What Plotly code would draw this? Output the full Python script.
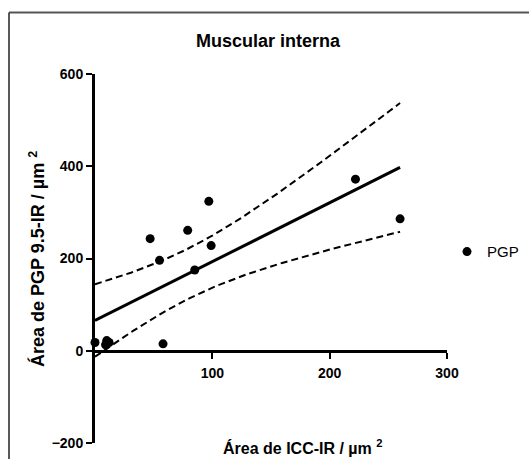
import numpy as np
import plotly.graph_objects as go

# ICC-IR area vs PGP 9.5-IR area (µm²), muscular interna
icc_area = [0, 9, 10, 12, 47, 55, 58, 79, 85, 97, 99, 222, 260]
pgp_area = [18, 13, 22, 18, 243, 196, 15, 261, 175, 324, 228, 372, 286]

x_ticks = [100, 200, 300]
y_ticks = [-200, 0, 200, 400, 600]

# Linear regression with 95% confidence band of the mean
x = np.array(icc_area, dtype=float)
y = np.array(pgp_area, dtype=float)
n = len(x)
slope, intercept = np.polyfit(x, y, 1)
resid = y - (intercept + slope * x)
s = np.sqrt(np.sum(resid ** 2) / (n - 2))
sxx = np.sum((x - x.mean()) ** 2)
t_crit = 2.201  # t(0.975, df=11)

xf = np.linspace(x.min(), x.max(), 120)
yf = intercept + slope * xf
half = t_crit * s * np.sqrt(1.0 / n + (xf - x.mean()) ** 2 / sxx)

FONT = "Arial, Liberation Sans, sans-serif"

fig = go.Figure()
fig.add_trace(go.Scatter(x=xf, y=yf + half, mode="lines",
                         line=dict(color="black", width=2, dash="7px,4px"),
                         showlegend=False, hoverinfo="skip"))
fig.add_trace(go.Scatter(x=xf, y=yf - half, mode="lines",
                         line=dict(color="black", width=2, dash="7px,4px"),
                         showlegend=False, hoverinfo="skip", cliponaxis=False))
fig.add_trace(go.Scatter(x=xf, y=yf, mode="lines",
                         line=dict(color="black", width=3),
                         showlegend=False, hoverinfo="skip"))
fig.add_trace(go.Scatter(x=icc_area, y=pgp_area, mode="markers", name="PGP",
                         marker=dict(color="black", size=9),
                         cliponaxis=False))

fig.update_layout(
    width=529, height=459,
    margin=dict(l=95, r=82, t=74, b=16, autoexpand=False),
    paper_bgcolor="white", plot_bgcolor="white",
    font=dict(family=FONT, color="black"),
    showlegend=True,
    legend=dict(x=1.0, y=0.518, xanchor="left", yanchor="middle",
                font=dict(size=15, family=FONT, color="black"), bgcolor="rgba(0,0,0,0)",
                itemwidth=30, borderwidth=0),
    xaxis=dict(range=[0, 300], tickvals=x_ticks, showgrid=False, zeroline=False,
               showline=True, linecolor="black", linewidth=3,
               ticks="outside", ticklen=6, tickwidth=2, tickcolor="black",
               ticklabelstandoff=2, automargin=False,
               tickfont=dict(size=14, family=FONT, weight="bold"),
               anchor="free", position=0.25),
    yaxis=dict(range=[-200, 600], tickvals=y_ticks, showgrid=False, zeroline=False,
               showline=True, linecolor="black", linewidth=3,
               ticks="outside", ticklen=6, tickwidth=2, tickcolor="black",
               automargin=False,
               tickfont=dict(size=14, family=FONT, weight="bold")),
    annotations=[
        dict(text="<b>Muscular interna</b>", x=0.493, y=1.089, xref="paper", yref="paper",
             showarrow=False, font=dict(size=18, family=FONT), xanchor="center", yanchor="middle"),
        dict(text="<b>Área de PGP 9.5-IR / µm <sup>2</sup></b>", x=-0.165, y=0.4986,
             xref="paper", yref="paper", showarrow=False, textangle=-90,
             font=dict(size=18, family=FONT), xanchor="center", yanchor="middle"),
        dict(text="<b>Área de ICC-IR / µm <sup>2</sup></b>", x=0.59, y=-0.01,
             xref="paper", yref="paper", showarrow=False,
             font=dict(size=16, family=FONT), xanchor="center", yanchor="middle"),
    ],
    shapes=[
        dict(type="line", xref="paper", yref="paper", x0=-0.2443, x1=1.24,
             y0=1.1667, y1=1.1667, line=dict(color="#555555", width=2)),
        dict(type="line", xref="paper", yref="paper", x0=-0.2443, x1=-0.2443,
             y0=-0.05, y1=1.1667, line=dict(color="#222222", width=1.5)),
    ],
)

fig.write_html("out.html")
